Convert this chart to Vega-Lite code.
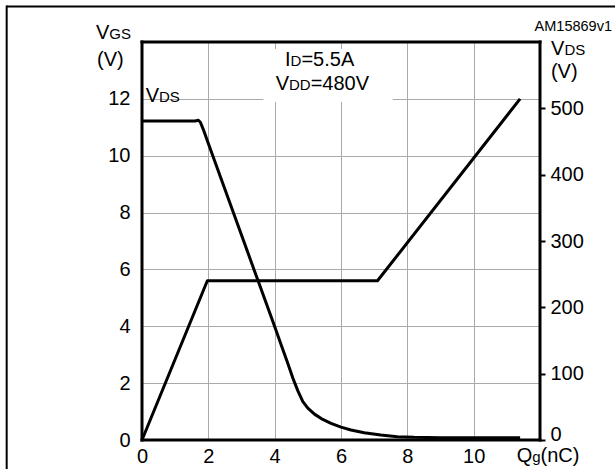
{
  "$schema": "https://vega.github.io/schema/vega-lite/v6.json",
  "width": 398,
  "height": 398,
  "autosize": {"type": "none"},
  "padding": {"left": 142, "top": 42, "right": 75, "bottom": 29},
  "background": "white",
  "data": {"values": [{}]},
  "datasets": {
    "vgs": [
      {"q": 0, "vgs": 0},
      {"q": 1.97, "vgs": 5.6},
      {"q": 7.1, "vgs": 5.6},
      {"q": 11.4, "vgs": 12}
    ],
    "vds": [
      {"q": 0, "vds": 481},
      {"q": 1.6, "vds": 481},
      {"q": 1.7, "vds": 482},
      {"q": 1.76, "vds": 479},
      {"q": 1.85, "vds": 468},
      {"q": 2.0, "vds": 447},
      {"q": 2.5, "vds": 378},
      {"q": 3.0, "vds": 309},
      {"q": 3.5, "vds": 240},
      {"q": 4.0, "vds": 171},
      {"q": 4.2, "vds": 143},
      {"q": 4.4, "vds": 115},
      {"q": 4.55, "vds": 93},
      {"q": 4.7, "vds": 74},
      {"q": 4.85, "vds": 58},
      {"q": 5.0, "vds": 48},
      {"q": 5.2, "vds": 39},
      {"q": 5.45, "vds": 31},
      {"q": 5.7, "vds": 25},
      {"q": 6.0, "vds": 19.5},
      {"q": 6.3, "vds": 15},
      {"q": 6.7, "vds": 11},
      {"q": 7.2, "vds": 7.5},
      {"q": 7.7, "vds": 5},
      {"q": 8.2, "vds": 4},
      {"q": 9, "vds": 3.5},
      {"q": 10, "vds": 3.5},
      {"q": 11.4, "vds": 3.5}
    ]
  },
  "config": {
    "view": {"stroke": null},
    "font": "Liberation Sans",
    "axis": {
      "labelFont": "Liberation Sans",
      "labelFontSize": 20,
      "labelColor": "black",
      "labelFlush": false,
      "gridColor": "#aaaaaa",
      "gridWidth": 1,
      "domain": false,
      "ticks": false,
      "tickSize": 0,
      "title": null
    },
    "text": {"font": "Liberation Sans", "fontSize": 20, "align": "left", "baseline": "alphabetic", "color": "black"}
  },
  "layer": [
    {
      "data": {"name": "vgs"},
      "mark": {"type": "line", "color": "black", "strokeWidth": 3, "strokeJoin": "round"},
      "encoding": {
        "x": {"field": "q", "type": "quantitative", "scale": {"domain": [0, 12], "nice": false, "zero": false},
          "axis": {"values": [0, 2, 4, 6, 8, 10], "labelPadding": 6, "labelFlush": false, "grid": true, "title": null}},
        "y": {"field": "vgs", "type": "quantitative", "scale": {"domain": [0, 14], "nice": false, "zero": false},
          "axis": {"values": [0, 2, 4, 6, 8, 10, 12], "labelPadding": 12, "grid": true, "title": null}}
      }
    },
    {
      "mark": {"type": "rect", "color": "white"},
      "encoding": {
        "x": {"datum": 3.66, "type": "quantitative", "scale": {"domain": [0, 12], "nice": false, "zero": false}, "axis": null},
        "x2": {"datum": 7.56},
        "y": {"datum": 11.9, "type": "quantitative", "scale": {"domain": [0, 14], "nice": false, "zero": false}, "axis": null},
        "y2": {"datum": 13.75}
      }
    },
    {
      "data": {"name": "vds"},
      "mark": {"type": "line", "color": "black", "strokeWidth": 3, "strokeJoin": "round"},
      "encoding": {
        "x": {"field": "q", "type": "quantitative", "scale": {"domain": [0, 12], "nice": false, "zero": false}, "axis": null},
        "y": {"field": "vds", "type": "quantitative", "scale": {"domain": [0, 600], "nice": false, "zero": false},
          "axis": {"orient": "right", "values": [0, 100, 200, 300, 400, 500], "grid": false, "ticks": true, "tickSize": 5, "tickWidth": 2, "tickColor": "black", "labelPadding": 5, "title": null,
            "labelBaseline": {"condition": {"test": "datum.value === 0", "value": "alphabetic"}, "value": "middle"}}}
      }
    },
    {
      "mark": {"type": "rule", "color": "black", "strokeWidth": 3, "strokeCap": "square"},
      "encoding": {
        "x": {"datum": 0, "type": "quantitative", "scale": {"domain": [0, 12], "nice": false, "zero": false}, "axis": null},
        "x2": {"datum": 12},
        "y": {"datum": 0, "type": "quantitative", "scale": {"domain": [0, 14], "nice": false, "zero": false}, "axis": null}
      }
    },
    {
      "mark": {"type": "rule", "color": "black", "strokeWidth": 3, "strokeCap": "square"},
      "encoding": {
        "x": {"datum": 0, "type": "quantitative", "scale": {"domain": [0, 12], "nice": false, "zero": false}, "axis": null},
        "x2": {"datum": 12},
        "y": {"datum": 14, "type": "quantitative", "scale": {"domain": [0, 14], "nice": false, "zero": false}, "axis": null}
      }
    },
    {
      "mark": {"type": "rule", "color": "black", "strokeWidth": 3, "strokeCap": "square"},
      "encoding": {
        "x": {"datum": 0, "type": "quantitative", "scale": {"domain": [0, 12], "nice": false, "zero": false}, "axis": null},
        "y": {"datum": 0, "type": "quantitative", "scale": {"domain": [0, 14], "nice": false, "zero": false}, "axis": null},
        "y2": {"datum": 14}
      }
    },
    {
      "mark": {"type": "rule", "color": "black", "strokeWidth": 3, "strokeCap": "square"},
      "encoding": {
        "x": {"datum": 12, "type": "quantitative", "scale": {"domain": [0, 12], "nice": false, "zero": false}, "axis": null},
        "y": {"datum": 0, "type": "quantitative", "scale": {"domain": [0, 14], "nice": false, "zero": false}, "axis": null},
        "y2": {"datum": 14}
      }
    },
    {
      "mark": {"type": "rule", "color": "black", "strokeWidth": 2},
      "encoding": {
        "x": {"datum": -4.08, "type": "quantitative", "scale": {"domain": [0, 12], "nice": false, "zero": false}, "axis": null},
        "x2": {"datum": 14.6},
        "y": {"datum": 15.25, "type": "quantitative", "scale": {"domain": [0, 14], "nice": false, "zero": false}, "axis": null}
      }
    },
    {
      "mark": {"type": "rule", "color": "black", "strokeWidth": 2},
      "encoding": {
        "x": {"datum": -4.08, "type": "quantitative", "scale": {"domain": [0, 12], "nice": false, "zero": false}, "axis": null},
        "y": {"datum": 15.285, "type": "quantitative", "scale": {"domain": [0, 14], "nice": false, "zero": false}, "axis": null},
        "y2": {"datum": -1.3}
      }
    },
    {"mark": {"type": "text", "align": "right", "fontSize": 14.5},
      "encoding": {"x": {"datum": 14.17, "type": "quantitative", "scale": {"domain": [0, 12], "nice": false, "zero": false}, "axis": null},
        "y": {"datum": 14.387, "type": "quantitative", "scale": {"domain": [0, 14], "nice": false, "zero": false}, "axis": null},
        "text": {"value": "AM15869v1"}}},
    {"mark": {"type": "text"},
      "encoding": {"x": {"datum": 12.33, "type": "quantitative", "scale": {"domain": [0, 12], "nice": false, "zero": false}, "axis": null},
        "y": {"datum": 13.543, "type": "quantitative", "scale": {"domain": [0, 14], "nice": false, "zero": false}, "axis": null},
        "text": {"value": "V"}}},
    {"mark": {"type": "text", "fontSize": 15},
      "encoding": {"x": {"datum": 12.735, "type": "quantitative", "scale": {"domain": [0, 12], "nice": false, "zero": false}, "axis": null},
        "y": {"datum": 13.543, "type": "quantitative", "scale": {"domain": [0, 14], "nice": false, "zero": false}, "axis": null},
        "text": {"value": "DS"}}},
    {"mark": {"type": "text"},
      "encoding": {"x": {"datum": 12.33, "type": "quantitative", "scale": {"domain": [0, 12], "nice": false, "zero": false}, "axis": null},
        "y": {"datum": 12.734, "type": "quantitative", "scale": {"domain": [0, 14], "nice": false, "zero": false}, "axis": null},
        "text": {"value": "(V)"}}},
    {"mark": {"type": "text"},
      "encoding": {"x": {"datum": 0.1115, "type": "quantitative", "scale": {"domain": [0, 12], "nice": false, "zero": false}, "axis": null},
        "y": {"datum": 11.907, "type": "quantitative", "scale": {"domain": [0, 14], "nice": false, "zero": false}, "axis": null},
        "text": {"value": "V"}}},
    {"mark": {"type": "text", "fontSize": 15},
      "encoding": {"x": {"datum": 0.5125, "type": "quantitative", "scale": {"domain": [0, 12], "nice": false, "zero": false}, "axis": null},
        "y": {"datum": 11.907, "type": "quantitative", "scale": {"domain": [0, 14], "nice": false, "zero": false}, "axis": null},
        "text": {"value": "DS"}}},
    {"mark": {"type": "text"},
      "encoding": {"x": {"datum": 4.311, "type": "quantitative", "scale": {"domain": [0, 12], "nice": false, "zero": false}, "axis": null},
        "y": {"datum": 13.156, "type": "quantitative", "scale": {"domain": [0, 14], "nice": false, "zero": false}, "axis": null},
        "text": {"value": "I"}}},
    {"mark": {"type": "text", "fontSize": 15},
      "encoding": {"x": {"datum": 4.48, "type": "quantitative", "scale": {"domain": [0, 12], "nice": false, "zero": false}, "axis": null},
        "y": {"datum": 13.156, "type": "quantitative", "scale": {"domain": [0, 14], "nice": false, "zero": false}, "axis": null},
        "text": {"value": "D"}}},
    {"mark": {"type": "text"},
      "encoding": {"x": {"datum": 4.806, "type": "quantitative", "scale": {"domain": [0, 12], "nice": false, "zero": false}, "axis": null},
        "y": {"datum": 13.156, "type": "quantitative", "scale": {"domain": [0, 14], "nice": false, "zero": false}, "axis": null},
        "text": {"value": "=5.5A"}}},
    {"mark": {"type": "text"},
      "encoding": {"x": {"datum": 4.031, "type": "quantitative", "scale": {"domain": [0, 12], "nice": false, "zero": false}, "axis": null},
        "y": {"datum": 12.312, "type": "quantitative", "scale": {"domain": [0, 14], "nice": false, "zero": false}, "axis": null},
        "text": {"value": "V"}}},
    {"mark": {"type": "text", "fontSize": 15},
      "encoding": {"x": {"datum": 4.432, "type": "quantitative", "scale": {"domain": [0, 12], "nice": false, "zero": false}, "axis": null},
        "y": {"datum": 12.312, "type": "quantitative", "scale": {"domain": [0, 14], "nice": false, "zero": false}, "axis": null},
        "text": {"value": "DD"}}},
    {"mark": {"type": "text"},
      "encoding": {"x": {"datum": 5.085, "type": "quantitative", "scale": {"domain": [0, 12], "nice": false, "zero": false}, "axis": null},
        "y": {"datum": 12.312, "type": "quantitative", "scale": {"domain": [0, 14], "nice": false, "zero": false}, "axis": null},
        "text": {"value": "=480V"}}},
    {"mark": {"type": "text"},
      "encoding": {"x": {"datum": -1.387, "type": "quantitative", "scale": {"domain": [0, 12], "nice": false, "zero": false}, "axis": null},
        "y": {"datum": 14.106, "type": "quantitative", "scale": {"domain": [0, 14], "nice": false, "zero": false}, "axis": null},
        "text": {"value": "V"}}},
    {"mark": {"type": "text", "fontSize": 15},
      "encoding": {"x": {"datum": -0.986, "type": "quantitative", "scale": {"domain": [0, 12], "nice": false, "zero": false}, "axis": null},
        "y": {"datum": 14.106, "type": "quantitative", "scale": {"domain": [0, 14], "nice": false, "zero": false}, "axis": null},
        "text": {"value": "GS"}}},
    {"mark": {"type": "text"},
      "encoding": {"x": {"datum": -1.357, "type": "quantitative", "scale": {"domain": [0, 12], "nice": false, "zero": false}, "axis": null},
        "y": {"datum": 13.156, "type": "quantitative", "scale": {"domain": [0, 14], "nice": false, "zero": false}, "axis": null},
        "text": {"value": "(V)"}}},
    {"mark": {"type": "text"},
      "encoding": {"x": {"datum": 11.296, "type": "quantitative", "scale": {"domain": [0, 12], "nice": false, "zero": false}, "axis": null},
        "y": {"datum": -0.773, "type": "quantitative", "scale": {"domain": [0, 14], "nice": false, "zero": false}, "axis": null},
        "text": {"value": "Q"}}},
    {"mark": {"type": "text", "fontSize": 15},
      "encoding": {"x": {"datum": 11.767, "type": "quantitative", "scale": {"domain": [0, 12], "nice": false, "zero": false}, "axis": null},
        "y": {"datum": -0.773, "type": "quantitative", "scale": {"domain": [0, 14], "nice": false, "zero": false}, "axis": null},
        "text": {"value": "g"}}},
    {"mark": {"type": "text"},
      "encoding": {"x": {"datum": 12.017, "type": "quantitative", "scale": {"domain": [0, 12], "nice": false, "zero": false}, "axis": null},
        "y": {"datum": -0.773, "type": "quantitative", "scale": {"domain": [0, 14], "nice": false, "zero": false}, "axis": null},
        "text": {"value": "(nC)"}}}
  ],
  "resolve": {"scale": {"x": "independent", "y": "independent"}}
}
